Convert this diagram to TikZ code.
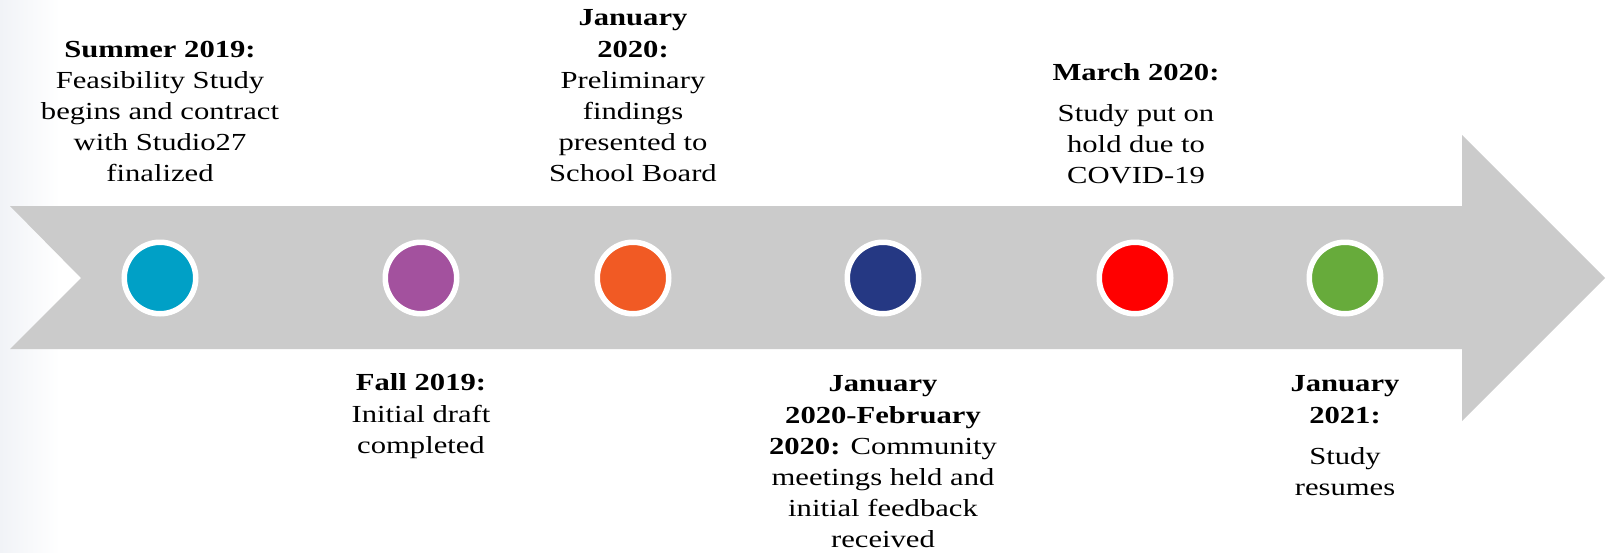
\documentclass[tikz,border=0pt]{standalone}
\usepackage{fontspec}
\setmainfont[FakeStretch=1.25]{Liberation Serif}

\definecolor{arrowgray}{HTML}{CBCBCB}
\definecolor{bgside}{HTML}{F1F3F7}
\definecolor{cblue}{HTML}{00A0C6}
\definecolor{cpurple}{HTML}{A3519E}
\definecolor{corange}{HTML}{F15A24}
\definecolor{cnavy}{HTML}{253883}
\definecolor{cred}{HTML}{FF0000}
\definecolor{cgreen}{HTML}{67AB3B}

\tikzset{
  milestone/.style = {circle, draw=white, line width=5.5pt, minimum size=71.5pt, inner sep=0pt},
  event/.style = {anchor=north, align=center, inner sep=0pt, font=\fontsize{24.5}{31.2}\selectfont}
}

\begin{document}
\begin{tikzpicture}[x=1pt,y=-1pt]
      \useasboundingbox (0,0) rectangle (1610,552);
      % Background
      \shade[left color=bgside, right color=white] (0,0) rectangle (60,552);

      % Arrow
      \fill[arrowgray] (10,206) -- (1462,206) -- (1462,135) -- (1605,278)
        -- (1462,421) -- (1462,349) -- (10,349) -- (81,278) -- cycle;

      % Milestones
      \node[milestone, fill=cblue]   (summer) at (160,278)  {};
      \node[milestone, fill=cpurple] (fall)   at (421,278)  {};
      \node[milestone, fill=corange] (jan)    at (633,278)  {};
      \node[milestone, fill=cnavy]   (janfeb) at (883,278)  {};
      \node[milestone, fill=cred]    (march)  at (1135,278) {};
      \node[milestone, fill=cgreen]  (resume) at (1345,278) {};

      % Events
      \node[event] (summertext) at (160,40.6)
        {\textbf{Summer 2019:}\\Feasibility Study\\begins and contract\\with Studio27\\finalized};
      \node[event] (jantext) at (633,9.6)
        {\textbf{January}\\\textbf{2020:}\\Preliminary\\findings\\presented to\\School Board};
      \node[event] (marchtext) at (1136,63)
        {\textbf{March 2020:}\\[10pt]Study put on\\hold due to\\COVID-19};
      \node[event] (falltext) at (421,373.6)
        {\textbf{Fall 2019:}\\Initial draft\\completed};
      \node[event] (janfebtext) at (883,375.6)
        {\textbf{January}\\\textbf{2020-February}\\\textbf{2020:} Community\\meetings held and\\initial feedback\\received};
      \node[event] (resumetext) at (1345,375.6)
        {\textbf{January}\\\textbf{2021:}\\[10pt]Study\\resumes};
\end{tikzpicture}
\end{document}
